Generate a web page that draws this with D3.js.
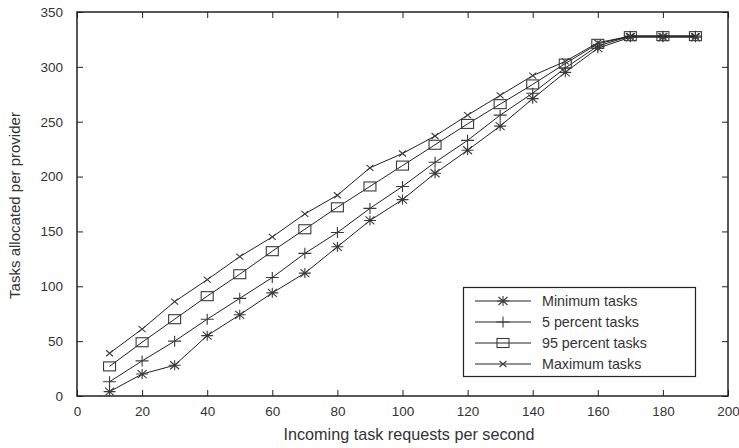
<!DOCTYPE html>
<html><head><meta charset="utf-8">
<script src="https://cdn.jsdelivr.net/npm/d3@7"></script>
<style>
body{margin:0;background:#fff;}
text{font-family:"Liberation Sans",Arial,Helvetica,sans-serif;fill:#333;}
</style></head>
<body><svg id="c" width="739" height="448"></svg>
<script>
const xValues = [10,20,30,40,50,60,70,80,90,100,110,120,130,140,150,160,170,180,190];
const minimumTasks = [4,20,28,55,74,94,112,136,160,179,203,224,246,271,295,317,327,327,327];
const percent5Tasks = [13,32,50,70,89,108,130,149,171,191,213,233,256,276,299,319,328,328,328];
const percent95Tasks = [27,49,70,91,111,132,152,172,191,210,229,248,266,284,303,321,328,328,328];
const maximumTasks = [39,61,86,106,127,145,166,183,208,221,237,256,274,292,305,322,328,328,328];
const seriesNames = ["Minimum tasks","5 percent tasks","95 percent tasks","Maximum tasks"];
const markerTypes = ["asterisk","plus","square","cross"];
const xTicks = [0,20,40,60,80,100,120,140,160,180,200];
const yTicks = [0,50,100,150,200,250,300,350];

const series = [minimumTasks, percent5Tasks, percent95Tasks, maximumTasks];
const svg = d3.select("#c");
const L=77, R=728, T=12, B=396;
const x = d3.scaleLinear().domain([0,200]).range([L,R]);
const y = d3.scaleLinear().domain([0,350]).range([B,T]);
const ink="#222";

function marker(g, type, cx, cy){
  const s = g.append("g").attr("transform",`translate(${cx},${cy})`)
    .attr("stroke","#3a3a3a").attr("stroke-width",1.1).attr("fill","none");
  if(type==="asterisk"){
    s.append("path").attr("d","M-6,0H6M0,-5V5M-4.5,-4L4.5,4M-4.5,4L4.5,-4");
  } else if(type==="plus"){
    s.append("path").attr("d","M-6.5,0H6.5M0,-5.5V5.5");
  } else if(type==="square"){
    s.append("rect").attr("x",-6).attr("y",-4.5).attr("width",12).attr("height",9);
  } else {
    s.append("path").attr("d","M-3.5,-3L3.5,3M-3.5,3L3.5,-3");
  }
}

// axes
const xa = svg.append("g").attr("transform",`translate(0,${B})`)
  .call(d3.axisBottom(x).tickValues(xTicks).tickSize(-6).tickPadding(10));
const xt = svg.append("g").attr("transform",`translate(0,${T})`)
  .call(d3.axisTop(x).tickValues(xTicks).tickSize(-6).tickFormat(""));
const ya = svg.append("g").attr("transform",`translate(${L},0)`)
  .call(d3.axisLeft(y).tickValues(yTicks).tickSize(-6).tickPadding(14));
const yr = svg.append("g").attr("transform",`translate(${R},0)`)
  .call(d3.axisRight(y).tickValues(yTicks).tickSize(-6).tickFormat(""));
[xa,xt,ya,yr].forEach(g=>{
  g.select(".domain").remove();
  g.selectAll(".tick line").attr("stroke",ink).attr("stroke-width",1);
  g.selectAll(".tick text").style("font-size","13.5px").attr("fill","#333");
});
svg.append("rect").attr("x",L).attr("y",T).attr("width",R-L).attr("height",B-T)
  .attr("fill","none").attr("stroke",ink).attr("stroke-width",1.5);

// lines
const line = d3.line().x((d,i)=>x(xValues[i])).y(d=>y(d));
series.forEach((s,k)=>{
  svg.append("path").datum(s).attr("d",line).attr("fill","none")
    .attr("stroke",ink).attr("stroke-width",1);
  const g = svg.append("g");
  s.forEach((v,i)=>marker(g, markerTypes[k], x(xValues[i]), y(v)));
});

// legend
const lg = svg.append("g");
lg.append("rect").attr("x",463.5).attr("y",287.5).attr("width",232).attr("height",89)
  .attr("fill","#fff").attr("stroke",ink).attr("stroke-width",1.2);
const ly = [301,322,343,364];
seriesNames.forEach((n,k)=>{
  lg.append("line").attr("x1",475).attr("x2",531).attr("y1",ly[k]).attr("y2",ly[k])
    .attr("stroke",ink).attr("stroke-width",1);
  marker(lg, markerTypes[k], 503, ly[k]);
  lg.append("text").attr("x",542).attr("y",ly[k]+5).style("font-size","14.3px").text(n);
});

// axis titles
svg.append("text").attr("x",409).attr("y",440).attr("text-anchor","middle")
  .style("font-size","16.2px").text("Incoming task requests per second");
svg.append("text").attr("transform",`translate(20,205.5) rotate(-90)`)
  .attr("text-anchor","middle").style("font-size","15px").text("Tasks allocated per provider");
</script></body></html>
